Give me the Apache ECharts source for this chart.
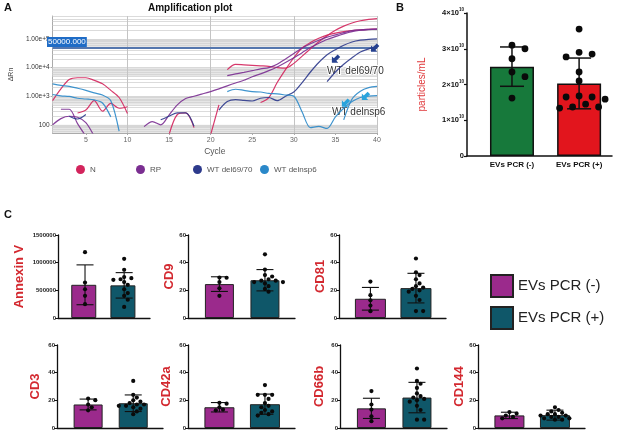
<!DOCTYPE html>
<html>
<head>
<meta charset="utf-8">
<script src="https://cdn.jsdelivr.net/npm/echarts@6/dist/echarts.min.js"></script>
<style>
html, body { margin: 0; padding: 0; background: #fff; }
#chart { width: 624px; height: 431px; }
</style>
</head>
<body>
<div id="chart"></div>
<script>
// ---------- A: amplification curves, ΔRn from cycle `start` onwards
const curvesN = [
  { start: 1, values: [700, 1800, 3800, 4400, 4400, 3600, 2700, 1600, 900, 250] },
  { start: 4, values: [260, 330, 700, 300, 560, 380, 430] },
  { start: 15, values: [45, 230, 260, 80] },
  { start: 20, values: [45, 500] },
  { start: 22, values: [8500, 13000, 12500, 12000, 11500, 11000, 10000, 9500, 14000, 25000, 45000, 80000, 130000, 200000, 280000, 360000, 430000, 480000, 510000] },
  { start: 26, values: [600, 900, 3000, 8500, 22000, 48000, 75000, 105000, 135000, 160000, 180000, 195000, 208000, 216000, 222000] },
];
const curvesRP = [
  { start: 1, values: [100, 165, 200, 185, 120, 40] },
  { start: 2, values: [350, 350, 110, 40] },
  { start: 12, values: [87, 130, 100, 220, 500, 830, 1000, 1200, 1450, 1800, 2300, 2900, 3600, 4800, 6000, 7800, 10500, 15000, 22000, 33000, 50000, 70000, 95000, 120000, 150000, 180000, 200000, 212000, 220000] },
  { start: 22, values: [5200, 6000, 6800, 7800, 9000, 10000, 13000, 20000, 31000, 48000, 68000, 90000, 115000, 138000, 165000, 195000, 208000, 215000, 220000] },
];
const curvesDel6970 = [
  { start: 3, values: [200, 160, 230] },
  { start: 14, values: [150, 200, 260, 260, 90] },
  { start: 21, values: [330, 650, 760, 720, 680, 850, 900, 700, 1000, 1400, 3000, 7000, 15000, 28000, 42000, 60000, 78000, 90000, 97000, 100000] },
  { start: 34, values: [3200, 7000, 13000, 22000, 35000, 45000, 55000] },
];
const curvesDelNsp6 = [
  { start: 1, values: [2700, 2400, 2200, 1900, 1600, 1300, 1100, 700, 60] },
  { start: 1, values: [1150, 1030, 980, 850, 800, 740, 580, 190] },
  { start: 22, values: [1450, 1750, 1600, 1450, 1400, 1250, 1200, 1100, 1000, 280, 80, 88, 75, 190, 380, 650, 900, 1000, 1050] },
  { start: 36, values: [150, 800, 1500, 2000, 2200] },
];
const threshold = 50000;
const cycleLabels = [5, 10, 15, 20, 25, 30, 35, 40];
const cycleGrid = [10, 20, 30, 40];
const arrows6970 = [[35, 19500], [39.7, 47000]];
const arrowsNsp6 = [[36.2, 570], [38.6, 980]];

// ---------- B: particles/mL
const bGroups = ['EVs PCR (-)', 'EVs PCR (+)'];
const bMean = [2.5e10, 2.03e10];
const bSD = [0.55e10, 0.71e10];
const bPointsNeg = [3.1e10, 3.0e10, 2.72e10, 2.35e10, 2.22e10, 1.62e10];
const bPointsPos = [3.55e10, 2.9e10, 2.85e10, 2.77e10, 2.35e10, 2.1e10, 1.68e10, 1.65e10, 1.65e10, 1.59e10, 1.45e10, 1.37e10, 1.37e10, 1.34e10];

// ---------- C: markers
const markers = ['Annexin V', 'CD9', 'CD81', 'CD3', 'CD42a', 'CD66b', 'CD144'];
const cMax = [1500000, 60, 60, 60, 60, 60, 60];
const cStep = [500000, 20, 20, 20, 20, 20, 20];
const cMeanNeg = [600000, 24.5, 13.9, 17.0, 15.0, 14.2, 9.1];
const cSdNeg = [360000, 5.3, 8.2, 3.9, 3.4, 7.3, 2.3];
const cMeanPos = [590000, 27.3, 21.6, 17.9, 17.2, 22.0, 9.3];
const cSdPos = [230000, 7.7, 10.7, 6.0, 7.3, 11.0, 3.6];
const cPointsNeg = [
  [1190000, 640000, 520000, 400000, 250000],
  [29.2, 29.1, 26, 21.5, 16],
  [26.3, 16.5, 12.8, 9, 4.9],
  [21.3, 20.1, 17, 15, 12.8],
  [18.2, 17.6, 15, 13.3, 12.8],
  [26.7, 17, 13.3, 8.5, 4.9],
  [11.5, 10.4, 9, 8, 7],
];
const cPointsPos = [
  [1070000, 870000, 740000, 720000, 700000, 690000, 650000, 600000, 520000, 450000, 400000, 330000, 200000],
  [46, 35, 31, 30, 28, 27, 27, 26, 26, 25, 23, 21, 19],
  [43, 33, 31, 28, 25, 23, 22, 21, 20, 19, 16, 13, 5, 5],
  [34, 24, 22, 20, 19, 18, 17, 17, 16, 16, 15, 14, 12, 10],
  [31, 24, 24, 24, 21, 18, 16, 15, 13, 12, 11, 10, 9],
  [43, 34, 32, 29, 25, 23, 22, 21, 20, 19, 16, 13, 6, 6],
  [15, 13, 12, 11, 10, 10, 9, 9, 8, 8, 7, 7, 6, 6],
];

const FONT = 'Liberation Sans';
const C_N = '#d3245c', C_RP = '#7a2e91', C_D = '#2d3a8c', C_S = '#2a88c9';
const MAGENTA = '#9b2a8c', TEAL = '#0f5769', GREEN = '#17793b', RED = '#e2151d';

// panel C layout: axis x position, top, width, bar width, name gap
const cLayout = [
  { left: 58, top: 235, width: 92, bw: 25, gap: 32 },
  { left: 188, top: 235, width: 107, bw: 29, gap: 12 },
  { left: 339, top: 235, width: 107, bw: 31, gap: 12 },
  { left: 57, top: 345, width: 106, bw: 29, gap: 15 },
  { left: 188, top: 345, width: 107, bw: 30, gap: 15 },
  { left: 340, top: 345, width: 107, bw: 29, gap: 14 },
  { left: 478, top: 345, width: 107, bw: 30, gap: 12 },
];

const chart = echarts.init(document.getElementById('chart'), null, { renderer: 'canvas' });

function curveSeries(name, color, curves) {
  return curves.map(c => ({
    name, type: 'line', xAxisIndex: 0, yAxisIndex: 0, color,
    data: c.values.map((v, i) => [c.start + i, v]),
    symbol: 'none', smooth: 0.3, z: 10,
    lineStyle: { color, width: 1.2, opacity: 0.9 },
    itemStyle: { color },
  }));
}

function errorBars(gi, means, sds, cap, lw) {
  return {
    type: 'custom', xAxisIndex: gi, yAxisIndex: gi, z: 6, silent: true,
    data: means.map((m, i) => [i, m, sds[i]]),
    renderItem(params, api) {
      const i = api.value(0), m = api.value(1), s = api.value(2);
      const t = api.coord([i, m + s]), b = api.coord([i, m - s]);
      const style = { stroke: '#111', lineWidth: lw };
      return { type: 'group', children: [
        { type: 'line', shape: { x1: t[0], y1: t[1], x2: b[0], y2: b[1] }, style },
        { type: 'line', shape: { x1: t[0] - cap / 2, y1: t[1], x2: t[0] + cap / 2, y2: t[1] }, style },
        { type: 'line', shape: { x1: b[0] - cap / 2, y1: b[1], x2: b[0] + cap / 2, y2: b[1] }, style },
      ] };
    },
  };
}

// dots spread sideways so they don't overlap (simple beeswarm in pixels)
function dotSeries(gi, groups, r, minDist, step) {
  const data = [];
  groups.forEach((vals, g) => vals.forEach(v => data.push([g, v])));
  let offsets = null;
  function layout(api) {
    const out = data.map(() => 0);
    groups.forEach((vals, g) => {
      const idx = data.map((d, k) => k).filter(k => data[k][0] === g)
        .sort((a, b) => data[b][1] - data[a][1]);
      const placed = [];
      idx.forEach(k => {
        const y = api.coord([g, data[k][1]])[1];
        for (let n = 0; n < 60; n++) {
          const dx = n === 0 ? 0 : (n % 2 ? 1 : -1) * Math.ceil(n / 2) * step;
          if (placed.every(p => (p.x - dx) ** 2 + (p.y - y) ** 2 >= minDist * minDist)) {
            placed.push({ x: dx, y }); out[k] = dx; break;
          }
        }
      });
    });
    return out;
  }
  return {
    type: 'custom', xAxisIndex: gi, yAxisIndex: gi, z: 7, silent: true, data,
    renderItem(params, api) {
      if (params.dataIndexInside === 0 || !offsets) offsets = layout(api);
      const c = api.coord([api.value(0), api.value(1)]);
      return { type: 'circle', shape: { cx: c[0] + offsets[params.dataIndex], cy: c[1], r }, style: { fill: '#0a0a0a' } };
    },
  };
}

// gridlines of the amplification plot
const minorLines = [];
for (let d = 1; d <= 5; d++) for (let k = 1; k <= 9; k++) {
  const v = k * Math.pow(10, d);
  if (v > 52 && v < 630000) minorLines.push({ yAxis: v });
}
const bands = [[50, 100], [500, 1000], [5000, 10000], [50000, 100000]].map(b => [{ yAxis: b[0] }, { yAxis: b[1] }]);
const arrowPath = 'path://M5,0 L10,5 L7,5 L7,11 L3,11 L3,5 L0,5 Z';

const grids = [
  { left: 35, right: 247, top: 16, bottom: 298 },
  { left: 467, right: 12, top: 13, bottom: 275 },
  ...cLayout.map(l => ({ left: l.left, width: l.width, top: l.top, height: 83 })),
];

const xAxes = [
  {
    gridIndex: 0, type: 'value', min: 1, max: 40,
    name: 'Cycle', nameLocation: 'middle', nameGap: 14,
    nameTextStyle: { fontSize: 8.5, color: '#555', fontFamily: FONT },
    axisLine: { onZero: false, lineStyle: { color: '#aaa' } },
    axisTick: { customValues: cycleLabels, length: 2, lineStyle: { color: '#aaa' } },
    axisLabel: { customValues: cycleLabels, fontSize: 7, color: '#666', margin: 4, fontFamily: FONT },
    splitLine: { show: false },
  },
  {
    gridIndex: 1, type: 'value', min: -0.67, max: 1.49,
    axisLine: { onZero: false, lineStyle: { color: '#111', width: 1.5 } },
    axisTick: { show: false },
    axisLabel: { customValues: [0, 1], formatter: v => bGroups[Math.round(v)], fontSize: 8, fontWeight: 'bold', color: '#111', margin: 5, fontFamily: FONT },
    splitLine: { show: false },
  },
  ...cLayout.map((l, i) => ({
    gridIndex: i + 2, type: 'value', min: -0.69, max: 1.66,
    axisLine: { onZero: false, lineStyle: { color: '#111', width: 1.3 } },
    axisTick: { show: false }, axisLabel: { show: false }, splitLine: { show: false },
  })),
];

const yAxes = [
  {
    gridIndex: 0, type: 'log', logBase: 10, min: 52, max: 630000,
    name: 'ΔRn', nameLocation: 'middle', nameRotate: 90, nameGap: 21,
    nameTextStyle: { fontSize: 7, color: '#444', fontFamily: FONT },
    axisLine: { show: true, onZero: false, lineStyle: { color: '#aaa' } },
    axisTick: { show: true, length: 2, lineStyle: { color: '#aaa' } },
    axisLabel: {
      showMinLabel: false, showMaxLabel: false, fontSize: 6.5, color: '#333', margin: 3, fontFamily: FONT,
      formatter: v => { const r = Math.round(v); return r >= 1000 ? r.toExponential(2) : String(r); },
    },
    splitLine: { show: false },
  },
  {
    gridIndex: 1, type: 'value', min: 0, max: 4e10, interval: 1e10,
    name: 'particles/mL', nameLocation: 'middle', nameRotate: 90, nameGap: 40,
    nameTextStyle: { fontSize: 10, color: '#e0383a', fontFamily: FONT },
    axisLine: { onZero: false, lineStyle: { color: '#111', width: 1.5 } },
    axisTick: { length: 3, lineStyle: { color: '#111', width: 1.2 } },
    axisLabel: {
      margin: 3,
      formatter: v => v === 0 ? '{b|0}' : `{b|${v / 1e10}×10}{s|10}`,
      rich: {
        b: { fontSize: 7.5, fontWeight: 'bold', color: '#111', fontFamily: FONT },
        s: { fontSize: 4.5, fontWeight: 'bold', color: '#111', fontFamily: FONT, padding: [0, 0, 6, 0] },
      },
    },
    splitLine: { show: false },
  },
  ...cLayout.map((l, i) => ({
    gridIndex: i + 2, type: 'value', min: 0, max: cMax[i], interval: cStep[i],
    name: markers[i], nameLocation: 'middle', nameRotate: 90, nameGap: l.gap,
    nameTextStyle: { fontSize: 13, fontWeight: 'bold', color: '#d3282f', fontFamily: FONT },
    axisLine: { onZero: false, lineStyle: { color: '#111', width: 1.3 } },
    axisTick: { length: 3, lineStyle: { color: '#111' } },
    axisLabel: { fontSize: 6, fontWeight: 'bold', color: '#222', margin: 2, fontFamily: FONT, formatter: v => String(v) },
    splitLine: { show: false },
  })),
];

const series = [
  {
    type: 'line', xAxisIndex: 0, yAxisIndex: 0, data: [], z: 1, silent: true,
    markArea: { silent: true, z: 1, itemStyle: { color: '#e6e6e6' }, data: bands },
    markLine: {
      silent: true, z: 2, symbol: 'none', label: { show: false },
      lineStyle: { color: '#d2d2d2', width: 0.8, type: 'solid' },
      data: minorLines.concat(cycleGrid.map(c => ({ xAxis: c, lineStyle: { color: '#c4c4c4', width: 1 } }))),
    },
  },
  {
    type: 'line', xAxisIndex: 0, yAxisIndex: 0, data: [], z: 3, silent: true,
    markLine: {
      silent: true, z: 3, symbol: 'none', label: { show: false },
      lineStyle: { color: '#5577ae', width: 2.2, type: 'solid' },
      data: [{ yAxis: threshold }],
    },
  },
  ...curveSeries('N', C_N, curvesN),
  ...curveSeries('RP', C_RP, curvesRP),
  ...curveSeries('WT del69/70', C_D, curvesDel6970),
  ...curveSeries('WT delnsp6', C_S, curvesDelNsp6),
  {
    type: 'line', xAxisIndex: 0, yAxisIndex: 0, data: [], z: 12, silent: true,
    markPoint: {
      silent: true, z: 12, label: { show: false },
      data: arrows6970.map(a => ({ coord: a, symbol: arrowPath, symbolSize: [9, 10], symbolRotate: 135, itemStyle: { color: '#25408f' } }))
        .concat(arrowsNsp6.map(a => ({ coord: a, symbol: arrowPath, symbolSize: [9, 10], symbolRotate: 135, itemStyle: { color: '#2aa3dc' } }))),
    },
  },
  // B
  {
    type: 'bar', xAxisIndex: 1, yAxisIndex: 1, barWidth: 44, z: 2,
    data: bMean.map((m, i) => ({ value: [i, m], itemStyle: { color: i ? RED : GREEN } })),
    itemStyle: { borderColor: '#111', borderWidth: 1.5 },
  },
  errorBars(1, bMean, bSD, 24, 1.5),
  dotSeries(1, [bPointsNeg, bPointsPos], 3.4, 8.5, 6.5),
  // C
  ...cLayout.flatMap((l, i) => [
    {
      type: 'bar', xAxisIndex: i + 2, yAxisIndex: i + 2, barWidth: l.bw, z: 2,
      data: [
        { value: [0, cMeanNeg[i]], itemStyle: { color: MAGENTA } },
        { value: [1, cMeanPos[i]], itemStyle: { color: TEAL } },
      ],
      itemStyle: { borderColor: '#222', borderWidth: 1 },
    },
    errorBars(i + 2, [cMeanNeg[i], cMeanPos[i]], [cSdNeg[i], cSdPos[i]], 17, 1.1),
    dotSeries(i + 2, [cPointsNeg[i], cPointsPos[i]], 2.1, 4.2, 3.6),
  ]),
  { name: 'EVs PCR (-)', type: 'bar', xAxisIndex: 2, yAxisIndex: 2, data: [], itemStyle: { color: MAGENTA, borderColor: '#222', borderWidth: 1 } },
  { name: 'EVs PCR (+)', type: 'bar', xAxisIndex: 2, yAxisIndex: 2, data: [], itemStyle: { color: TEAL, borderColor: '#222', borderWidth: 1 } },
];

const smallLegend = (name, left) => ({
  data: [name], left, top: 160, icon: 'circle', itemWidth: 9, itemHeight: 9,
  selectedMode: false, textStyle: { fontSize: 8, color: '#555', fontFamily: FONT },
});

chart.setOption({
  backgroundColor: '#fff',
  animation: false,
  grid: grids,
  xAxis: xAxes,
  yAxis: yAxes,
  legend: [
    smallLegend('N', 71),
    smallLegend('RP', 131),
    smallLegend('WT del69/70', 188),
    smallLegend('WT delnsp6', 255),
    {
      data: ['EVs PCR (-)', 'EVs PCR (+)'], left: 485, top: 269, orient: 'vertical',
      icon: 'rect', itemWidth: 22, itemHeight: 22, itemGap: 8, selectedMode: false,
      textStyle: { fontSize: 15, color: '#222', fontFamily: FONT },
    },
  ],
  graphic: [
    { type: 'text', left: 4, top: 2, style: { text: 'A', fontSize: 11, fontWeight: 'bold', fill: '#111', fontFamily: FONT } },
    { type: 'text', left: 396, top: 2, style: { text: 'B', fontSize: 11, fontWeight: 'bold', fill: '#111', fontFamily: FONT } },
    { type: 'text', left: 4, top: 209, style: { text: 'C', fontSize: 11, fontWeight: 'bold', fill: '#111', fontFamily: FONT } },
    { type: 'text', left: 148, top: 3, style: { text: 'Amplification plot', fontSize: 10, fontWeight: 'bold', fill: '#111', fontFamily: FONT } },
    { type: 'text', left: 47, top: 37, z: 10, style: { text: '50000.000', fontSize: 8, fill: '#fff', backgroundColor: '#1f6cc6', padding: [1, 1], fontFamily: FONT } },
    { type: 'text', left: 326, top: 65, z: 10, style: { text: 'WT del69/70', fontSize: 10, fill: '#333', fontFamily: FONT, stroke: '#fff', lineWidth: 2 } },
    { type: 'text', left: 331, top: 106, z: 10, style: { text: 'WT delnsp6', fontSize: 10, fill: '#333', fontFamily: FONT, stroke: '#fff', lineWidth: 2 } },
  ],
  series,
});
</script>
</body>
</html>
